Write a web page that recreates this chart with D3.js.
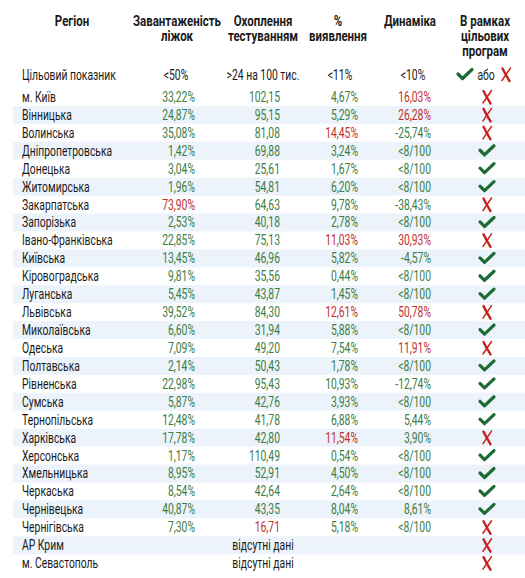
<!DOCTYPE html>
<html>
<head>
<meta charset="utf-8">
<script src="https://cdn.jsdelivr.net/npm/d3@7"></script>
<style>
  html, body { margin: 0; padding: 0; background: #fff; }
  svg { display: block; font-family: Roboto, "Noto Sans", sans-serif; }
</style>
</head>
<body>
<div class="js-table-chart"></div>
<script>
// --- data ---
var regions = ["м. Київ", "Вінницька", "Волинська", "Дніпропетровська", "Донецька", "Житомирська",
  "Закарпатська", "Запорізька", "Івано-Франківська", "Київська", "Кіровоградська", "Луганська",
  "Львівська", "Миколаївська", "Одеська", "Полтавська", "Рівненська", "Сумська", "Тернопільська",
  "Харківська", "Херсонська", "Хмельницька", "Черкаська", "Чернівецька", "Чернігівська",
  "АР Крим", "м. Севастополь"];

// bed occupancy, %
var beds = [33.22, 24.87, 35.08, 1.42, 3.04, 1.96, 73.90, 2.53, 22.85, 13.45, 9.81, 5.45,
  39.52, 6.60, 7.09, 2.14, 22.98, 5.87, 12.48, 17.78, 1.17, 8.95, 8.54, 40.87, 7.30, null, null];

// tests per 100k
var testing = [102.15, 95.15, 81.08, 69.88, 25.61, 54.81, 64.63, 40.18, 75.13, 46.96, 35.56, 43.87,
  84.30, 31.94, 49.20, 50.43, 95.43, 42.76, 41.78, 42.80, 110.49, 52.91, 42.64, 43.35, 16.71, null, null];

// detection rate, %
var detection = [4.67, 5.29, 14.45, 3.24, 1.67, 6.20, 9.78, 2.78, 11.03, 5.82, 0.44, 1.45,
  12.61, 5.88, 7.54, 1.78, 10.93, 3.93, 6.88, 11.54, 0.54, 4.50, 2.64, 8.04, 5.18, null, null];

// dynamics, % ("<8/100" where cases are few)
var dynamics = [16.03, 26.28, -25.74, "<8/100", "<8/100", "<8/100", -38.43, "<8/100", 30.93, -4.57,
  "<8/100", "<8/100", 50.78, "<8/100", 11.91, "<8/100", -12.74, "<8/100", 5.44, 3.90, "<8/100",
  "<8/100", "<8/100", 8.61, "<8/100", null, null];

// within target programme
var onTarget = [false, false, false, true, true, true, false, true, false, true, true, true,
  false, true, false, true, true, true, true, false, true, true, true, true, false, false, false];

var headers = [["Регіон"], ["Завантаженість", "ліжок"], ["Охоплення", "тестуванням"],
  ["%", "виявлення"], ["Динаміка"], ["В рамках", "цільових", "програм"]];
var targetLabels = ["Цільовий показник", "<50%", ">24 на 100 тис.", "<11%", "<10%"];
var noDataLabel = "відсутні дані";

(function() {
  var width = 525
    , height = 578
    , squeeze = 0.74   // fake a condensed face
    , headSqueeze = 0.82
    , green = "#3a7d45"
    , red = "#c0302c"
    , darkGreen = "#1d6a34"
    , crossRed = "#c8201f"
    , stripe = "#edf3fa"
    , ink = "#1a1a1a"
    , rowTop = 88
    , rowStep = 17.93
    , lineStep = 14.8
    , nf = d3.formatLocale({decimal: ",", thousands: " ", grouping: [3], currency: ["", ""], minus: "-"}).format(".2f")
    ;

  var y = d3.scaleBand()
        .domain(d3.range(regions.length))
        .range([rowTop, rowTop + rowStep * regions.length])
        .paddingInner(0)
    , headerX = [72, 177, 263, 338, 410, 485]
    , targetX = [22, 176, 263, 340, 413]
    , colRight = [195, 280, 358, 431]
    , iconX = 487
    ;

  var svg = d3.select('.js-table-chart')
        .append('svg')
          .attr('width', width)
          .attr('height', height)
    , gStripe = svg.append('g').attr('class', 'stripes')
    , gHead = svg.append('g')
          .attr('class', 'headers')
          .attr('font-weight', 'bold')
          .attr('font-size', 14)
          .attr('text-anchor', 'middle')
          .attr('fill', ink)
    , gTarget = svg.append('g')
          .attr('class', 'target')
          .attr('font-size', 14)
          .attr('fill', ink)
    , gRows = svg.append('g')
          .attr('class', 'rows')
          .attr('font-size', 14)
    ;

  function pct(v) { return nf(v) + "%"; }
  function at(x, yy, s) { return `translate(${x},${yy}) scale(${s || squeeze},1)`; }

  // striped background on every second row
  gStripe.selectAll('rect')
    .data(d3.range(regions.length).filter(i => i % 2 === 1))
    .enter()
    .append('rect')
      .attr('x', 13)
      .attr('y', i => y(i))
      .attr('width', width - 13)
      .attr('height', y.bandwidth())
      .attr('fill', stripe);

  // header, one text per line
  var headLines = [];
  headers.forEach((lines, i) => {
    lines.forEach((l, k) => headLines.push({ text: l, x: headerX[i], line: k }));
  });

  gHead.selectAll('text')
    .data(headLines)
    .enter()
    .append('text')
      .attr('transform', d => at(d.x, 26 + d.line * lineStep, headSqueeze))
      .text(d => d.text);

  // target row
  gTarget.selectAll('text')
    .data(targetLabels)
    .enter()
    .append('text')
      .attr('transform', (d, i) => at(targetX[i], 80))
      .attr('text-anchor', (d, i) => i === 0 ? 'start' : 'middle')
      .text(d => d);

  drawCheck(gTarget, 465, 74.5);
  gTarget.append('text')
    .attr('transform', at(486, 80))
    .attr('text-anchor', 'middle')
    .text('або');
  drawCross(gTarget, 506, 74.5);

  function drawCheck(g, cx, cy) {
    g.append('path')
      .attr('d', `M${cx - 7},${cy - 0.5} L${cx - 2.5},${cy + 4} L${cx + 7},${cy - 5}`)
      .attr('fill', 'none')
      .attr('stroke', darkGreen)
      .attr('stroke-width', 3.2)
      .attr('stroke-linecap', 'round')
      .attr('stroke-linejoin', 'round');
  }

  function drawCross(g, cx, cy) {
    g.append('path')
      .attr('d', `M${cx - 3.5},${cy - 6} Q${cx - 0.5},${cy} ${cx + 3.5},${cy + 6.5}`)
      .attr('fill', 'none')
      .attr('stroke', crossRed)
      .attr('stroke-width', 2.4)
      .attr('stroke-linecap', 'round');
    g.append('path')
      .attr('d', `M${cx + 4.5},${cy - 6.5} L${cx - 4},${cy + 6}`)
      .attr('fill', 'none')
      .attr('stroke', crossRed)
      .attr('stroke-width', 1.5)
      .attr('stroke-linecap', 'round');
  }

  // body rows
  var row = gRows.selectAll('g.row')
    .data(regions.map((r, i) => ({
      i: i, region: r, beds: beds[i], testing: testing[i],
      detection: detection[i], dynamics: dynamics[i], ok: onTarget[i]
    })))
    .enter()
    .append('g')
      .attr('class', 'row')
      .attr('transform', d => `translate(0,${y(d.i) + y.bandwidth() / 2})`);

  row.append('text')
    .attr('transform', at(22, 5))
    .attr('fill', ink)
    .text(d => d.region);

  var cells = [
    { key: 'beds', fmt: pct, bad: v => v >= 50 },
    { key: 'testing', fmt: nf, bad: v => v < 24 },
    { key: 'detection', fmt: pct, bad: v => v >= 11 },
    { key: 'dynamics', fmt: v => typeof v === 'string' ? v : pct(v), bad: v => typeof v === 'number' && v >= 10 }
  ];

  cells.forEach((c, k) => {
    row.filter(d => d[c.key] != null)
      .append('text')
        .attr('transform', at(colRight[k], 5))
        .attr('text-anchor', 'end')
        .attr('fill', d => c.bad(d[c.key]) ? red : green)
        .text(d => c.fmt(d[c.key]));
  });

  row.filter(d => d.beds == null)
    .append('text')
      .attr('transform', at(263, 5))
      .attr('text-anchor', 'middle')
      .attr('fill', ink)
      .text(noDataLabel);

  row.each(function(d) {
    var g = d3.select(this);
    if (d.ok) {
      drawCheck(g, iconX, 0);
    } else {
      drawCross(g, iconX, 0);
    }
  });
})();
</script>
</body>
</html>
